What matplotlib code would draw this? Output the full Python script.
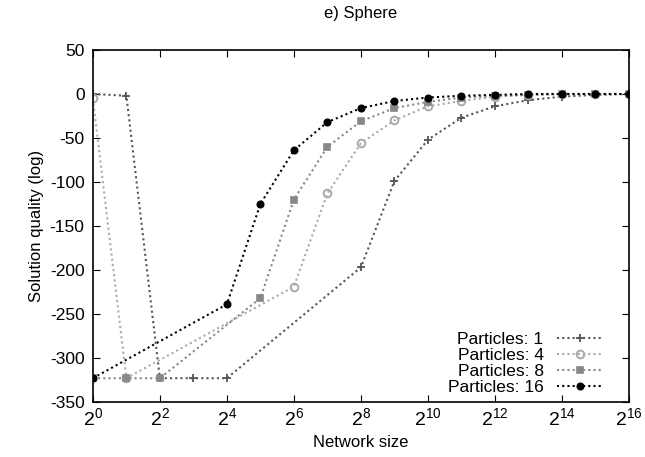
import matplotlib
matplotlib.use('Agg')
import matplotlib.pyplot as plt
import numpy as np

plt.rcParams['font.family'] = ['Liberation Sans', 'DejaVu Sans']
plt.rcParams['mathtext.fontset'] = 'custom'
plt.rcParams['mathtext.rm'] = 'Liberation Sans'
plt.rcParams['mathtext.it'] = 'Liberation Sans'
plt.rcParams['axes.unicode_minus'] = False

# exponents of network size (2^k) and solution quality
exp_p1 = [0, 1, 2, 3, 4, 8, 9, 10, 11, 12, 13, 14, 15, 16]
val_p1 = [0, -2, -323, -323, -323, -197, -99, -52, -27, -14, -7, -3, -1, 0]

exp_p4 = [0, 1, 6, 7, 8, 9, 10, 11, 12, 13, 14, 15, 16]
val_p4 = [-5, -323, -219, -113, -56, -30, -14, -8, -3, -1, 0, 0, 0]

exp_p8 = [0, 1, 2, 5, 6, 7, 8, 9, 10, 11, 12, 13, 14, 15, 16]
val_p8 = [-323, -323, -323, -232, -120, -60, -31, -16, -9, -4, -2, -1, 0, 0, 0]

exp_p16 = [0, 4, 5, 6, 7, 8, 9, 10, 11, 12, 13, 14, 15, 16]
val_p16 = [-323, -239, -125, -64, -32, -16, -8, -4, -2, -1, 0, 0, 0, 0]

series = [
    ('Particles: 1', exp_p1, val_p1, '#555555', '+', 6, 'full', 1.3),
    ('Particles: 4', exp_p4, val_p4, '#aaaaaa', 'o', 5.5, 'none', 1.4),
    ('Particles: 8', exp_p8, val_p8, '#888888', 's', 4.5, 'full', 1.2),
    ('Particles: 16', exp_p16, val_p16, '#000000', 'o', 4.8, 'full', 1.0),
]

fig = plt.figure(figsize=(6.45, 4.57), dpi=100)
ax = fig.add_axes([0.144, 0.1204, 0.831, 0.7702])

for label, ex, val, col, mk, ms, fill, mew in series:
    x = 2.0 ** np.array(ex)
    ax.plot(x, val, linestyle=(0, (1, 1.5)), linewidth=1.5, color=col,
            marker=mk, markersize=ms, fillstyle=fill, markeredgewidth=mew,
            label=label)

ax.set_xscale('log', base=2)
ax.set_xlim(2 ** 0, 2 ** 16)
ax.set_ylim(-350, 50)
ax.set_xticks([2.0 ** k for k in range(0, 17, 2)])
ax.set_xticklabels([r'$2^{%d}$' % k for k in range(0, 17, 2)])
ax.xaxis.set_minor_locator(matplotlib.ticker.NullLocator())
ax.set_yticks(np.arange(-350, 51, 50))
ax.tick_params(direction='in', top=True, right=True, length=5, labelsize=12.5, pad=6)
ax.tick_params(axis='x', labelsize=14, pad=4)

ax.set_xlabel('Network size', fontsize=12, labelpad=4)
ax.set_ylabel('Solution quality (log)', fontsize=12)
ax.set_title('e) Sphere', fontsize=12, pad=23)

for s in ax.spines.values():
    s.set_linewidth(1.2)

ax.legend(loc='lower right', bbox_to_anchor=(0.964, 0.0), markerfirst=False,
          frameon=False, fontsize=12.5, handlelength=2.6, labelspacing=0.05,
          borderaxespad=0, handletextpad=0.8)

fig.savefig('out.png', dpi=100)
